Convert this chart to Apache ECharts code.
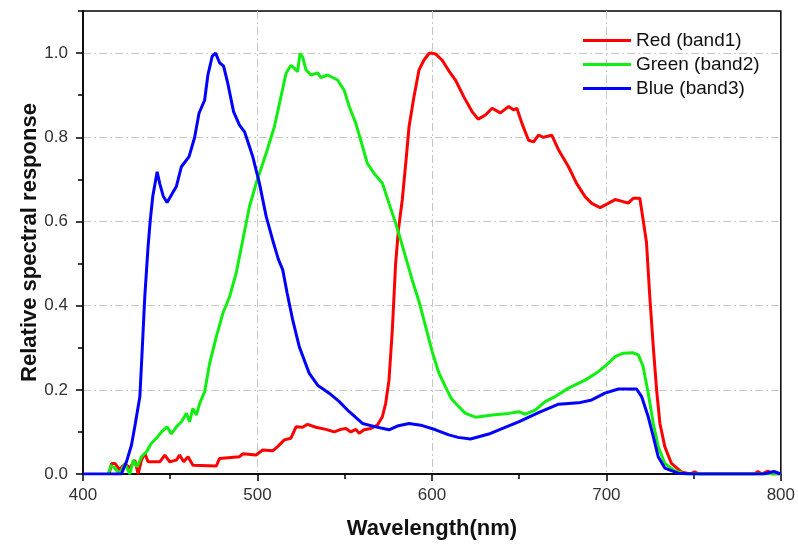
<!DOCTYPE html>
<html>
<head>
<meta charset="utf-8">
<script src="https://cdn.jsdelivr.net/npm/echarts@6/dist/echarts.min.js"></script>
<style>html,body{margin:0;padding:0;background:#fff}#c{width:798px;height:548px}</style>
</head>
<body>
<div id="c"></div>
<script>
// ---- data ----
var seriesNames = ['Red (band1)', 'Green (band2)', 'Blue (band3)'];
var xTicks = [400, 500, 600, 700, 800];
var yTicks = [0.0, 0.2, 0.4, 0.6, 0.8, 1.0];

var redX = [415,416.4,418.3,421,423,425,426.9,429.7,431.6,433.5,435.4,437.3,444,446.9,449.7,453.5,455.4,457.7,460.2,463,476.4,478.3,489.7,491.6,499.2,503,508.7,511.6,515.4,519.2,522.1,525.9,528.7,533.5,539.2,544,547.8,550.7,553.5,556.4,558.3,561.1,565,568.7,571.6,573.5,575.4,577.3,579.2,580.8,583,585,586.9,589.7,592.6,595.4,598.3,600,602.1,605.9,609.7,613.5,618.3,623,626.5,630.7,634.5,639.2,644,646.9,648.7,651.6,655.4,658.3,661.1,664,668.7,672.6,678.3,683,687.8,691.6,696.4,701.1,705,709.7,712.6,715.4,719.2,721.1,723,724.9,726.9,728.8,730.7,733.5,737.3,743,748,750.6,753,785,786.9,789,792.6,795,800];
var redY = [0,0.025,0.025,0.01,0.02,0.021,0.014,0.033,0,0.033,0.049,0.029,0.029,0.045,0.029,0.033,0.045,0.029,0.041,0.021,0.019,0.037,0.041,0.048,0.045,0.057,0.055,0.065,0.081,0.085,0.112,0.111,0.118,0.111,0.106,0.1,0.106,0.108,0.1,0.106,0.097,0.105,0.108,0.116,0.136,0.168,0.223,0.342,0.5,0.58,0.651,0.738,0.825,0.896,0.96,0.983,0.999,1.0,0.998,0.983,0.958,0.936,0.896,0.861,0.843,0.853,0.869,0.858,0.873,0.865,0.869,0.833,0.793,0.789,0.805,0.8,0.805,0.77,0.73,0.69,0.659,0.643,0.633,0.643,0.652,0.647,0.644,0.655,0.655,0.603,0.55,0.421,0.302,0.2,0.12,0.065,0.025,0.005,0,0.005,0,0,0.006,0,0.007,0,0];

var greenX = [414.5,416,418,421,424,426.9,428.8,431,433.5,436.4,439.2,442.1,445,448.2,450.7,453.5,456.4,459.3,461.1,463,465,466.9,469.7,472.6,476.4,480.2,484,487.8,491.6,495.4,499.2,505,509.7,512.6,516.4,519.2,521.1,523,524.4,525.9,527.8,530.7,534.5,536.4,540.2,545.9,549.7,552.6,556.4,559.2,563,566.9,571.6,575.4,579.2,582.1,584.9,588.7,592.6,596.4,600.2,604,607.8,611,613.5,619.2,625,634.5,644,649.7,653.5,659.2,664.9,670.7,678.3,687.8,695.4,701.1,705,709.7,715.4,718.3,721.1,724,726.9,729.7,733.5,739.2,745,800];
var greenY = [0,0.02,0.015,0,0.025,0,0.033,0.017,0.041,0.053,0.073,0.085,0.1,0.112,0.095,0.112,0.124,0.144,0.124,0.156,0.14,0.168,0.195,0.263,0.326,0.382,0.421,0.477,0.556,0.635,0.69,0.762,0.825,0.88,0.952,0.971,0.964,0.956,0.999,0.991,0.96,0.948,0.953,0.942,0.948,0.936,0.912,0.873,0.833,0.793,0.738,0.714,0.691,0.643,0.596,0.556,0.516,0.461,0.41,0.35,0.29,0.24,0.207,0.18,0.168,0.144,0.135,0.14,0.144,0.148,0.142,0.152,0.172,0.184,0.204,0.223,0.243,0.263,0.279,0.287,0.288,0.283,0.255,0.192,0.12,0.065,0.025,0.008,0,0];

var blueX = [400,422,425,427.8,430,432.6,434,435.4,437.3,438.5,440,442.5,444,446,448.2,451,453.5,456.4,460.8,464,466.5,469.7,471.6,474.1,476,478.3,480.6,483,486.3,489.7,492.6,495.4,497.3,501.1,505,508.7,512,514.5,517,520.2,524,529.7,534.5,541.1,546.9,552.6,560.2,567.8,575.4,580.2,586.9,594.5,602.1,609.7,615,622.1,632.6,640.2,649.7,661.1,672.6,684,691.6,699.2,706.9,717.3,720.2,724,726.9,729.7,733.5,741.1,750,790,796,800];
var blueY = [0,0,0.03,0.069,0.12,0.184,0.3,0.42,0.54,0.6,0.66,0.718,0.69,0.66,0.645,0.665,0.683,0.73,0.754,0.8,0.857,0.888,0.948,0.993,1.0,0.977,0.969,0.928,0.861,0.829,0.813,0.778,0.754,0.691,0.612,0.556,0.51,0.485,0.43,0.366,0.302,0.239,0.211,0.192,0.172,0.148,0.12,0.112,0.105,0.114,0.12,0.115,0.105,0.093,0.087,0.083,0.095,0.108,0.124,0.146,0.166,0.169,0.176,0.192,0.202,0.202,0.184,0.136,0.089,0.041,0.014,0.002,0,0,0.006,0];

function pairs(xs, ys) { return xs.map(function (x, i) { return [x, ys[i]]; }); }

var colors = ['#ff0000', '#11ee11', '#0000ff'];
var gridLine = { show: true, showMinLine: false, showMaxLine: false, lineStyle: { color: '#c8c8c8', width: 1, type: [8, 3, 2, 3] } };
var font = "'Liberation Sans', Arial, sans-serif";

var chart = echarts.init(document.getElementById('c'), null, { renderer: 'canvas' });
chart.setOption({
  animation: false,
  backgroundColor: '#fff',
  grid: { left: 83, right: 14, top: 11, bottom: 74, show: true, borderColor: '#000', borderWidth: 1.5, containLabel: false },
  legend: {
    data: seriesNames, orient: 'vertical', left: 578, top: 26,
    icon: 'rect', itemWidth: 48, itemHeight: 3, itemGap: 5,
    textStyle: { fontFamily: font, fontSize: 19, color: '#111' }
  },
  xAxis: {
    type: 'value', min: xTicks[0], max: xTicks[xTicks.length - 1], interval: 100,
    name: 'Wavelength(nm)', nameLocation: 'middle', nameGap: 44,
    nameTextStyle: { fontFamily: font, fontWeight: 'bold', fontSize: 22, color: '#111' },
    axisLine: { show: true, onZero: false, lineStyle: { color: '#000', width: 1.5 } },
    axisTick: { show: true, inside: false, length: 7, lineStyle: { color: '#000', width: 1.5 } },
    minorTick: { show: true, splitNumber: 2, length: 5, lineStyle: { color: '#000', width: 1.5 } },
    axisLabel: { fontFamily: font, fontSize: 17, color: '#333', margin: 13 },
    splitLine: gridLine
  },
  yAxis: [{
    type: 'value', min: yTicks[0], max: 1.1, interval: 0.2,
    name: 'Relative spectral response', nameLocation: 'middle', nameGap: 42, nameMoveOverlap: false,
    nameTextStyle: { fontFamily: font, fontWeight: 'bold', fontSize: 22, color: '#111' },
    axisLine: { show: true, onZero: false, lineStyle: { color: '#000', width: 1.5 } },
    axisTick: { show: true, inside: false, length: 7, lineStyle: { color: '#000', width: 1.5 } },
    minorTick: { show: false },
    axisLabel: {
      fontFamily: font, fontSize: 17, color: '#333', margin: 15, showMaxLabel: false,
      formatter: function (v) { return yTicks.indexOf(Math.round(v * 10) / 10) >= 0 && Math.abs(v - Math.round(v * 10) / 10) < 1e-6 ? v.toFixed(1) : ''; }
    },
    splitLine: gridLine
  }, {
    type: 'value', position: 'left', min: 0, max: 1.1, interval: 0.1,
    axisLine: { show: false },
    axisTick: { show: true, inside: false, length: 5, lineStyle: { color: '#000', width: 1.5 } },
    axisLabel: { show: false },
    splitLine: { show: false }
  }],
  series: [
    { name: seriesNames[0], type: 'line', data: pairs(redX, redY), showSymbol: false, lineStyle: { width: 3, color: colors[0] }, itemStyle: { color: colors[0] } },
    { name: seriesNames[1], type: 'line', data: pairs(greenX, greenY), showSymbol: false, lineStyle: { width: 3, color: colors[1] }, itemStyle: { color: colors[1] } },
    { name: seriesNames[2], type: 'line', data: pairs(blueX, blueY), showSymbol: false, lineStyle: { width: 3, color: colors[2] }, itemStyle: { color: colors[2] } }
  ]
});
</script>
</body>
</html>
